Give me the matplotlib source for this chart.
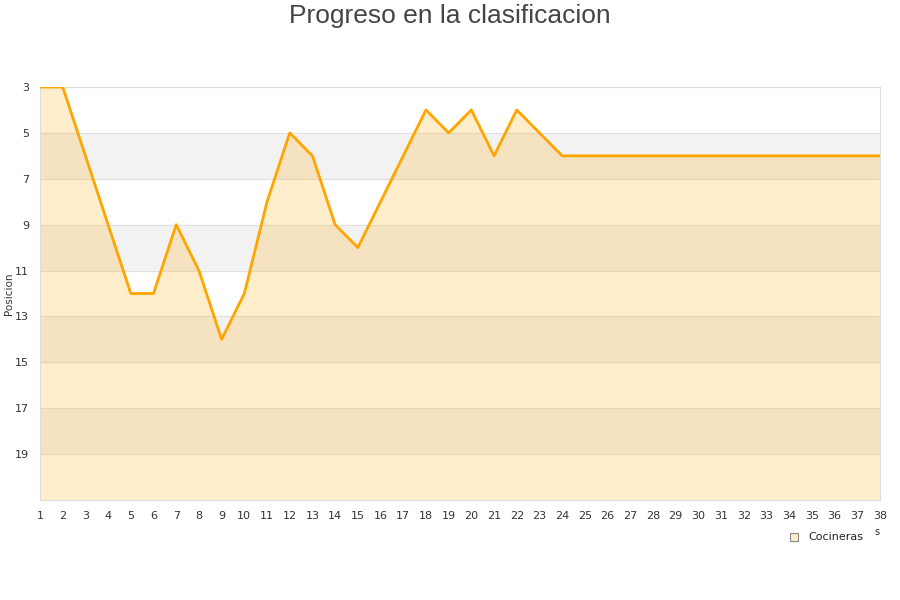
import matplotlib.pyplot as plt
import numpy as np

jornadas = list(range(1, 39))
posiciones = [3, 3, 6, 9, 12, 12, 9, 11, 14, 12, 8, 5, 6, 9, 10, 8, 6, 4, 5, 4,
              6, 4, 5, 6, 6, 6, 6, 6, 6, 6, 6, 6, 6, 6, 6, 6, 6, 6]
y_ticks = [3, 5, 7, 9, 11, 13, 15, 17, 19]
equipo = "Cocineras"

fig = plt.figure(figsize=(9, 6), dpi=100)
ax = fig.add_axes([40 / 900, 100 / 600, 840 / 900, 413 / 600])

# bandas alternas
for b in [5, 9, 13, 17]:
   ax.axhspan(b, b + 2, color="#f2f2f2", zorder=0, lw=0)
for t in y_ticks:
   ax.axhline(t, color="#e0e0e0", lw=0.8, zorder=1)

ax.fill_between(jornadas, posiciones, 21, color="#ffa500", alpha=0.2, lw=0, zorder=2)
ax.plot(jornadas, posiciones, color="#ffa500", lw=2.0, zorder=3)

ax.set_xlim(1, 38)
ax.set_ylim(21, 3)
ax.set_xticks(jornadas)
ax.set_yticks(y_ticks)
ax.tick_params(axis="both", length=0, labelsize=8, colors="#333333", pad=8)
for s in ax.spines.values():
   s.set_color("#dddddd")
ax.set_ylabel("Posicion", fontsize=7.5, color="#333333")
ax.yaxis.set_label_coords(-26 / 840, 0.5)

fig.text(0.5, 1 - 16 / 600, "Progreso en la clasificacion", ha="center", va="center",
         fontsize=19, color="#444444", family="Liberation Sans")

# leyenda
fig.patches.append(plt.Rectangle((790 / 900, 1 - 541 / 600), 8 / 900, 8 / 600,
                                 transform=fig.transFigure, facecolor="#ffecc8",
                                 edgecolor="#888888", lw=0.8))
fig.text(808 / 900, 1 - 537 / 600, equipo, fontsize=8, va="center", color="#222222")
fig.text(874 / 900, 1 - 532 / 600, "s", fontsize=7, va="center", color="#333333")

plt.savefig("out.png", dpi=100)
